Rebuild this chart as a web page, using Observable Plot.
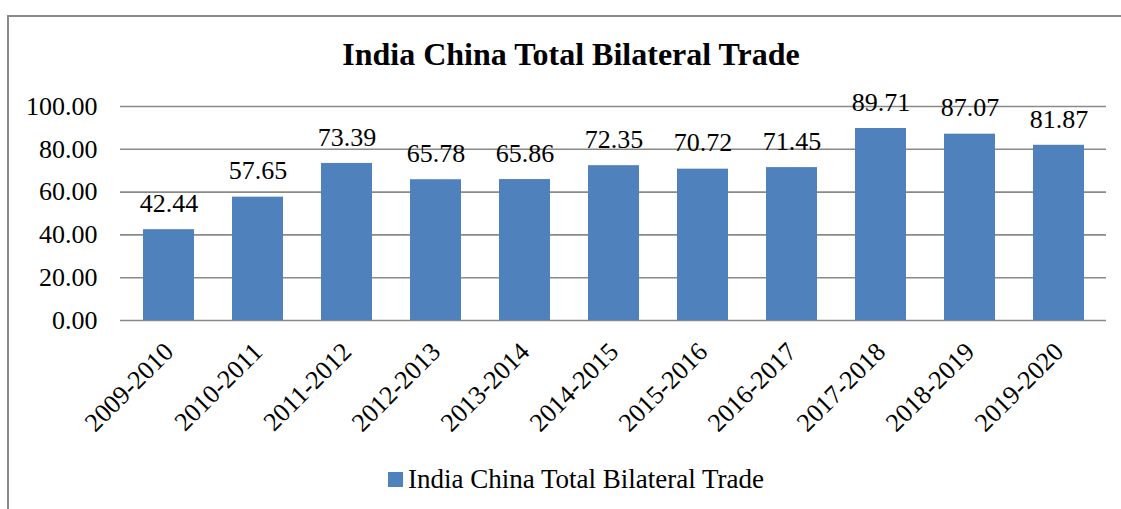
<!DOCTYPE html>
<html>
<head>
<meta charset="utf-8">
<script src="https://cdn.jsdelivr.net/npm/d3@7"></script>
<script src="https://cdn.jsdelivr.net/npm/@observablehq/plot@0.6"></script>
<style>
  html, body { margin: 0; padding: 0; background: #fff; }
  #wrap { position: relative; width: 1121px; height: 509px; overflow: hidden; font-family: "Liberation Serif", "Times New Roman", serif; }
  #frame { position: absolute; left: 7px; top: 15px; width: 1300px; height: 700px; border: 2px solid #8a8a8a; box-sizing: border-box; }
  #title { position: absolute; left: 0; width: 1142px; top: 36px; text-align: center; font-weight: bold; font-size: 32px; color: #000; }
  #legend { position: absolute; left: 388px; top: 464px; font-size: 27px; color: #000; display: flex; align-items: center; white-space: nowrap; }
  #legend .sw { width: 15px; height: 15px; background: #4F81BD; margin-right: 5px; }
  #chart { position: absolute; left: 0; top: 0; }
</style>
</head>
<body>
<div id="wrap">
  <div id="frame"></div>
  <div id="chart"></div>
  <div id="title">India China Total Bilateral Trade</div>
  <div id="legend"><div class="sw"></div><span>India China Total Bilateral Trade</span></div>
</div>
<script>
const years = ["2009-2010","2010-2011","2011-2012","2012-2013","2013-2014","2014-2015","2015-2016","2016-2017","2017-2018","2018-2019","2019-2020"];
const trade = [42.44, 57.65, 73.39, 65.78, 65.86, 72.35, 70.72, 71.45, 89.71, 87.07, 81.87];
const yTicks = [0, 20, 40, 60, 80, 100];

const data = years.map((y, i) => ({year: y, value: trade[i]}));
const serif = "'Liberation Serif', 'Times New Roman', serif";

const chart = Plot.plot({
  width: 1121,
  height: 509,
  marginLeft: 120,
  marginRight: 15,
  marginTop: 106,
  marginBottom: 189,
  style: {background: "transparent", color: "#000"},
  x: {domain: years, paddingInner: 0.43, paddingOuter: 0.215, label: null},
  y: {domain: [0, 100], label: null},
  marks: [
    Plot.ruleY(yTicks, {stroke: "#8a8a8a", strokeWidth: 1.6}),
    Plot.barY(data, {x: "year", y: "value", fill: "#4F81BD"}),
    Plot.text(data, {x: "year", y: "value", text: d => d.value.toFixed(2), dy: -26, fontSize: 26, fontFamily: serif, fill: "#000", lineAnchor: "middle"}),
    Plot.axisY(yTicks, {tickSize: 0, tickPadding: 23, fontSize: 26, fontFamily: serif, tickFormat: d3.format(".2f"), label: null}),
    Plot.axisX({tickSize: 0, tickRotate: -45, tickPadding: 27, fontSize: 26, fontFamily: serif, label: null})
  ]
});
chart.querySelectorAll("text").forEach(t => t.style.fontFamily = serif);
document.getElementById("chart").appendChild(chart);
</script>
</body>
</html>
